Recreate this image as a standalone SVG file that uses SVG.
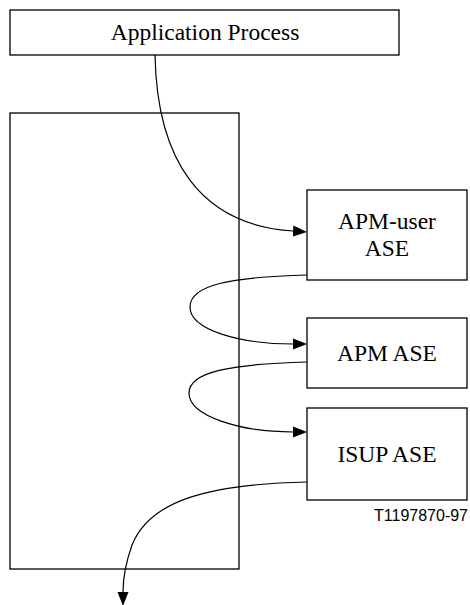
<svg xmlns="http://www.w3.org/2000/svg" width="470" height="605" viewBox="0 0 470 605">
<style>
.box{fill:#fff;stroke:#000;stroke-width:1.3}
.lbl{font-family:"Liberation Serif","Times New Roman",serif;font-size:23.5px;fill:#000;text-anchor:middle}
.conn{fill:none;stroke:#000;stroke-width:1.2}
.code{font-family:"Liberation Sans",Arial,sans-serif;font-size:16px;fill:#000;text-anchor:end}
</style>
<defs>
<marker id="ah" markerUnits="userSpaceOnUse" markerWidth="14" markerHeight="12" refX="0" refY="5.5" orient="auto" viewBox="0 0 14 11">
<path d="M0,0 L14,5.5 L0,11 z" fill="#000"/>
</marker>
</defs>
<g id="app-process">
<rect class="box" x="10" y="10" width="389" height="45"/>
<text class="lbl" x="205" y="40">Application Process</text>
</g>
<g id="container">
<rect class="box" x="10" y="113" width="229" height="456" style="fill:none"/>
</g>
<g id="apm-user-ase">
<rect class="box" x="307" y="190" width="160" height="90"/>
<text class="lbl" x="387" y="229">APM-user</text>
<text class="lbl" x="387" y="256">ASE</text>
</g>
<g id="apm-ase">
<rect class="box" x="307" y="318" width="160" height="70"/>
<text class="lbl" x="387" y="361">APM ASE</text>
</g>
<g id="isup-ase">
<rect class="box" x="307" y="408" width="160" height="92"/>
<text class="lbl" x="387" y="462">ISUP ASE</text>
</g>
<text class="code" x="468" y="521">T1197870-97</text>
<g id="connectors">
<path class="conn" marker-end="url(#ah)" d="M155,55 C157,160 200,225 293,231"/>
<path class="conn" marker-end="url(#ah)" d="M307,275 C230,277 190,285 190,307 C190,330 240,344 293,344"/>
<path class="conn" marker-end="url(#ah)" d="M307,362 C230,364 189,372 189,393 C189,416 240,432 293,432"/>
<path class="conn" marker-end="url(#ah)" d="M307,482 C210,484 150,500 132,545 C125,565 123,580 123,592"/>
</g>
</svg>
